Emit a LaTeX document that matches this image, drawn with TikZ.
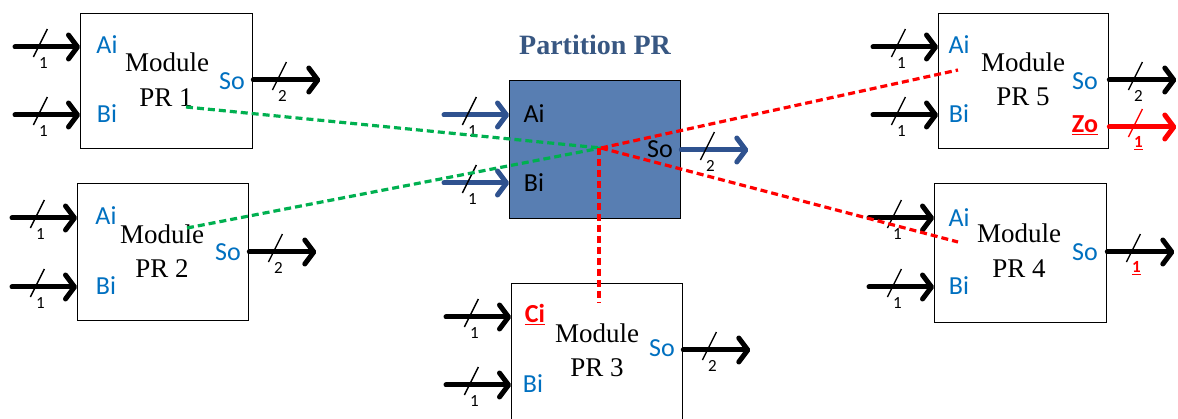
\documentclass[tikz,border=0pt]{standalone}
\usepackage{fontspec}
\setmainfont{Liberation Serif}
\newfontfamily\carl{Carlito}
\usetikzlibrary{arrows.meta,calc}
\definecolor{portblue}{RGB}{0,112,192}
\definecolor{pfill}{RGB}{88,126,178}
\definecolor{pwire}{RGB}{47,82,143}
\definecolor{ptitle}{RGB}{56,87,130}
\definecolor{dgreen}{RGB}{0,176,80}
\definecolor{dred}{RGB}{255,0,0}
\tikzset{
  box/.style={draw=black, line width=1.3pt, fill=white, anchor=north west, inner sep=0pt},
  wire/.style={line width=5pt, line cap=round, -{Straight Barb[length=9pt,width=24pt,round]}},
  slashln/.style={line width=1.4pt},
  numlbl/.style={font=\carl\fontsize{17}{19}\selectfont, inner sep=0pt},
  port/.style={font=\carl\fontsize{26}{30}\selectfont, text=portblue, inner sep=0pt, anchor=base},
  modtxt/.style={font=\fontsize{27}{31}\selectfont, inner sep=0pt, anchor=base},
  gdash/.style={draw=dgreen, line width=3.2pt, dash pattern=on 7pt off 4pt},
  rdash/.style={draw=dred, line width=3.2pt, dash pattern=on 7pt off 4pt},
}
\newcommand\busline[6]{%
  \draw[wire,draw=#1] (#3) -- coordinate[pos=0.36] (#6m) (#4);
  \draw[slashln,draw=#2] ($(#6m)+(-5,10)$) -- ($(#6m)+(9,-18)$);
  \node[numlbl,text=#2] (#6n) at ($(#6m)+(5,16)$) {#5};
}
\newcommand\inp[5]{%
  \coordinate (#5s) at ($(#1.north west)+(-65,#2)$);
  \busline{#3}{black}{#5s}{#5s -| #1.west}{#4}{#5}}
\newcommand\outp[6]{%
  \coordinate (#6e) at ($(#1.north east)+(67,#2)$);
  \busline{#3}{#4}{#6e -| #1.east}{#6e}{#5}{#6}}
\newcommand\redul[1]{\textcolor{dred}{\underline{\textbf{#1}}}}
\begin{document}
\begin{tikzpicture}[x=1pt,y=-1pt]
\useasboundingbox (0,0) rectangle (1178,419);
% boxes
\node[box, minimum width=172pt, minimum height=135pt] (b1) at (80,13) {};
\node[box, minimum width=171pt, minimum height=137pt] (b2) at (77,183) {};
\node[box, fill=pfill, minimum width=171pt, minimum height=138pt] (bp) at (509,80) {};
\node[box, minimum width=171pt, minimum height=145pt] (b3) at (511,283) {};
\node[box, minimum width=170pt, minimum height=135pt] (b5) at (938,13) {};
\node[box, minimum width=172pt, minimum height=139pt] (b4) at (934,183) {};
% title
\node[font=\bfseries\fontsize{28}{32}\selectfont, text=ptitle, anchor=base, inner sep=0pt] (title) at (595,55) {Partition PR};
% box 1
\node[port] (b1ai) at ($(b1.north west)+(27,41)$) {Ai};
\node[port] (b1bi) at ($(b1.north west)+(27,110)$) {Bi};
\node[port] (b1so) at ($(b1.north west)+(152,77)$) {So};
\node[modtxt] (b1m) at ($(b1.north west)+(87,59)$) {Module};
\node[modtxt] (b1p) at ($(b1.north west)+(86,94)$) {PR 1};
\inp{b1}{34}{black}{1}{b1i1}
\inp{b1}{102}{black}{1}{b1i2}
\outp{b1}{67}{black}{black}{2}{b1o1}
% box 2
\node[port] (b2ai) at ($(b2.north west)+(29,42)$) {Ai};
\node[port] (b2bi) at ($(b2.north west)+(29,112)$) {Bi};
\node[port] (b2so) at ($(b2.north west)+(151,78)$) {So};
\node[modtxt] (b2m) at ($(b2.north west)+(85,61)$) {Module};
\node[modtxt] (b2p) at ($(b2.north west)+(85,95)$) {PR 2};
\inp{b2}{35}{black}{1}{b2i1}
\inp{b2}{104}{black}{1}{b2i2}
\outp{b2}{69}{black}{black}{2}{b2o1}
% partition
\node[port, text=black] (bpai) at ($(bp.north west)+(25,43)$) {Ai};
\node[port, text=black] (bpbi) at ($(bp.north west)+(25,112)$) {Bi};
\node[port, text=black] (bpso) at ($(bp.north west)+(151,78)$) {So};
\inp{bp}{35}{pwire}{1}{bpi1}
\inp{bp}{103}{pwire}{1}{bpi2}
\outp{bp}{70}{pwire}{black}{2}{bpo1}
% box 3
\node[port] (b3ci) at ($(b3.north west)+(24,40)$) {\redul{Ci}};
\node[port] (b3bi) at ($(b3.north west)+(22,109)$) {Bi};
\node[port] (b3so) at ($(b3.north west)+(151,74)$) {So};
\node[modtxt] (b3m) at ($(b3.north west)+(86,60)$) {Module};
\node[modtxt] (b3p) at ($(b3.north west)+(86,94)$) {PR 3};
\inp{b3}{34}{black}{1}{b3i1}
\inp{b3}{102}{black}{1}{b3i2}
\outp{b3}{67}{black}{black}{2}{b3o1}
% box 5
\node[port] (b5ai) at ($(b5.north west)+(21,41)$) {Ai};
\node[port] (b5bi) at ($(b5.north west)+(21,110)$) {Bi};
\node[port] (b5so) at ($(b5.north west)+(147,77)$) {So};
\node[port] (b5zo) at ($(b5.north west)+(147,120)$) {\redul{Zo}};
\node[modtxt] (b5m) at ($(b5.north west)+(85,59)$) {Module};
\node[modtxt] (b5p) at ($(b5.north west)+(85,93)$) {PR 5};
\inp{b5}{34}{black}{1}{b5i1}
\inp{b5}{102}{black}{1}{b5i2}
\outp{b5}{67}{black}{black}{2}{b5o1}
\outp{b5}{114}{dred}{dred}{\underline{\textbf{1}}}{b5o2}
% box 4
\node[port] (b4ai) at ($(b4.north west)+(25,44)$) {Ai};
\node[port] (b4bi) at ($(b4.north west)+(25,112)$) {Bi};
\node[port] (b4so) at ($(b4.north west)+(151,78)$) {So};
\node[modtxt] (b4m) at ($(b4.north west)+(85,60)$) {Module};
\node[modtxt] (b4p) at ($(b4.north west)+(85,95)$) {PR 4};
\inp{b4}{35}{black}{1}{b4i1}
\inp{b4}{104}{black}{1}{b4i2}
\outp{b4}{69}{black}{black}{\redul{1}}{b4o1}
% dashed links
\coordinate (hub) at (601,148);
\coordinate (g1) at (186,107);
\coordinate (g2) at (187,228);
\coordinate (r5) at (958,70);
\coordinate (r4) at (958,242);
\coordinate (r3) at (599,303);
\draw[gdash] (g1) -- (hub);
\draw[gdash] (g2) -- (hub);
\draw[rdash] (hub) -- (r5);
\draw[rdash] (hub) -- (r4);
\draw[rdash] (hub -| r3) -- (r3);
\end{tikzpicture}
\end{document}
